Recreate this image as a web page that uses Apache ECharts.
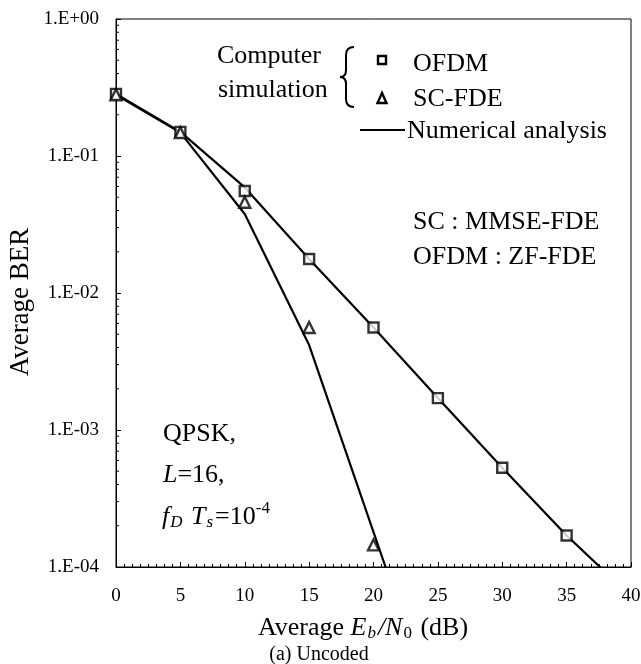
<!DOCTYPE html>
<html>
<head>
<meta charset="utf-8">
<script src="https://cdn.jsdelivr.net/npm/echarts@6/dist/echarts.min.js"></script>
<style>
html,body{margin:0;padding:0;background:#fff;}
#chart{width:641px;height:664px;}
</style>
</head>
<body>
<div id="chart"></div>
<script>
// ---- data ----
var snrOfdmSim = [0, 5, 10, 15, 20, 25, 30, 35];
var berOfdmSim = [0.284, 0.150, 0.0555, 0.0177, 0.0056, 0.00171, 0.00053, 0.00017];
var snrScSim = [0, 5, 10, 15, 20];
var berScSim = [0.280, 0.148, 0.046, 0.0056, 0.000145];
var snrOfdmAna = [0, 5, 10, 15, 20, 25, 30, 35, 38];
var berOfdmAna = [0.284, 0.150, 0.059, 0.0177, 0.0056, 0.00171, 0.00053, 0.00017, 0.000092];
var snrScAna = [0, 5, 10, 15, 21];
var berScAna = [0.280, 0.148, 0.0377, 0.00417, 0.000096];
var xTicks = [0, 5, 10, 15, 20, 25, 30, 35, 40];
var yDecades = [-4, -3, -2, -1, 0];

function pairs(xs, ys) { return xs.map(function (x, i) { return [x, ys[i]]; }); }
function yLabel(v) {
  var e = Math.round(Math.log10(v));
  var a = Math.abs(e);
  return '1.E' + (e >= 0 ? '+' : '-') + (a < 10 ? '0' : '') + a;
}

var FONT = 'Liberation Serif';
var chart = echarts.init(document.getElementById('chart'), null, {renderer: 'canvas'});

function txt(text, x, y, size, extra) {
  var o = {
    type: 'text', x: x, y: y, silent: true,
    style: {text: text, fontFamily: FONT, fontSize: size, fill: '#000', align: 'left', verticalAlign: 'middle'}
  };
  if (extra) { for (var k in extra) o.style[k] = extra[k]; }
  return o;
}
function seg(x1, y1, x2, y2, w) {
  return {type: 'line', silent: true, shape: {x1: x1, y1: y1, x2: x2, y2: y2}, style: {stroke: '#000', lineWidth: w || 2}};
}
function curve(x1, y1, cx, cy, x2, y2) {
  return {type: 'bezierCurve', silent: true, shape: {x1: x1, y1: y1, cpx1: cx, cpy1: cy, x2: x2, y2: y2},
          style: {stroke: '#000', lineWidth: 2, fill: null}};
}

var graphics = [
  txt('Computer', 217, 56, 26),
  txt('simulation', 218, 90, 26),
  curve(354, 47, 346, 47, 346, 55),
  seg(346, 55, 346, 70),
  curve(346, 70, 346, 77, 340, 77),
  curve(340, 77, 346, 77, 346, 84),
  seg(346, 84, 346, 99),
  curve(346, 99, 346, 107, 354, 107),
  {type: 'rect', silent: true, shape: {x: 378, y: 56, width: 8, height: 8}, style: {stroke: '#000', lineWidth: 2.4, fill: '#fff'}},
  {type: 'polygon', silent: true, shape: {points: [[382, 93], [377.5, 103], [386.5, 103]]}, style: {stroke: '#000', lineWidth: 2.4, fill: '#fff'}},
  txt('OFDM', 413, 64, 26),
  txt('SC-FDE', 413, 99, 26),
  seg(360, 130, 405, 130),
  txt('Numerical analysis', 407, 131, 26),
  txt('SC : MMSE-FDE', 413, 222, 26),
  txt('OFDM : ZF-FDE', 413, 257, 26),
  txt('QPSK,', 163, 434, 26),
  txt('{i|L}=16,', 163, 475, 26, {rich: {i: {fontFamily: FONT, fontSize: 26, fontStyle: 'italic'}}}),
  txt('{i|f}{s|D}{i| T}{s|s}=10{p|-4}', 162, 517, 26, {rich: {
    i: {fontFamily: FONT, fontSize: 26, fontStyle: 'italic'},
    s: {fontFamily: FONT, fontSize: 17, fontStyle: 'italic', padding: [12, 2, 0, 1]},
    p: {fontFamily: FONT, fontSize: 17, padding: [0, 0, 16, 0]}
  }}),
  {type: 'text', silent: true, x: 21, y: 302, rotation: Math.PI / 2,
   style: {text: 'Average BER', fontFamily: FONT, fontSize: 27, fill: '#000', align: 'center', verticalAlign: 'middle'}},
  txt('Average {i|E}{s|b}{i|/N}{t|0} (dB)', 363, 628, 26, {align: 'center', rich: {
    i: {fontFamily: FONT, fontSize: 26, fontStyle: 'italic'},
    s: {fontFamily: FONT, fontSize: 17, fontStyle: 'italic', padding: [12, 2, 0, 1]},
    t: {fontFamily: FONT, fontSize: 17, padding: [12, 2, 0, 1]}
  }}),
  txt('(a) Uncoded', 319, 655, 20, {align: 'center'})
];

var option = {
  animation: false,
  backgroundColor: '#fff',
  grid: {left: 116, right: 10, top: 19, bottom: 97, show: true, borderColor: '#000', borderWidth: 1, outerBoundsMode: 'none'},
  xAxis: {
    type: 'value', min: 0, max: 40, interval: 5,
    axisLine: {show: true, lineStyle: {color: '#000', width: 1}},
    axisTick: {show: true, inside: true, length: 5, lineStyle: {color: '#000'}},
    minorTick: {show: true, splitNumber: 8, length: 3, lineStyle: {color: '#000'}},
    splitLine: {show: false},
    axisLabel: {color: '#000', fontFamily: FONT, fontSize: 19, margin: 20,
      formatter: function (v) { return xTicks.indexOf(v) >= 0 ? String(v) : ''; }}
  },
  yAxis: {
    type: 'log', logBase: 10, min: Math.pow(10, yDecades[0]), max: Math.pow(10, yDecades[yDecades.length - 1]),
    axisLine: {show: true, lineStyle: {color: '#000', width: 1}},
    axisTick: {show: true, inside: true, length: 5, lineStyle: {color: '#000'}},
    splitLine: {show: false},
    axisLabel: {color: '#000', fontFamily: FONT, fontSize: 19, margin: 17, formatter: yLabel}
  },
  series: [
    {name: 'OFDM analysis', type: 'line', data: pairs(snrOfdmAna, berOfdmAna), showSymbol: false, clip: true,
     lineStyle: {color: '#000', width: 2.2}, z: 2},
    {name: 'SC-FDE analysis', type: 'line', data: pairs(snrScAna, berScAna), showSymbol: false, clip: true,
     lineStyle: {color: '#000', width: 2.2}, z: 2},
    {name: 'OFDM', type: 'scatter', data: pairs(snrOfdmSim, berOfdmSim), symbol: 'rect', symbolSize: 10,
     itemStyle: {color: '#fff', borderColor: '#000', borderWidth: 2.4}, z: 4},
    {name: 'SC-FDE', type: 'scatter', data: pairs(snrScSim, berScSim), symbol: 'triangle', symbolSize: 11,
     itemStyle: {color: '#fff', borderColor: '#000', borderWidth: 2.4}, z: 5}
  ],
  graphic: graphics
};
chart.setOption(option);

// log-scale minor ticks on the y axis, positioned through the axis scale
var minor = [];
var x0 = chart.convertToPixel({xAxisIndex: 0}, 0);
for (var d = 0; d < yDecades.length - 1; d++) {
  for (var m = 2; m <= 9; m++) {
    var v = m * Math.pow(10, yDecades[d]);
    var py = chart.convertToPixel({yAxisIndex: 0}, v);
    minor.push(seg(x0, py, x0 + 3, py, 1));
  }
}
chart.setOption({graphic: graphics.concat(minor)});
</script>
</body>
</html>
